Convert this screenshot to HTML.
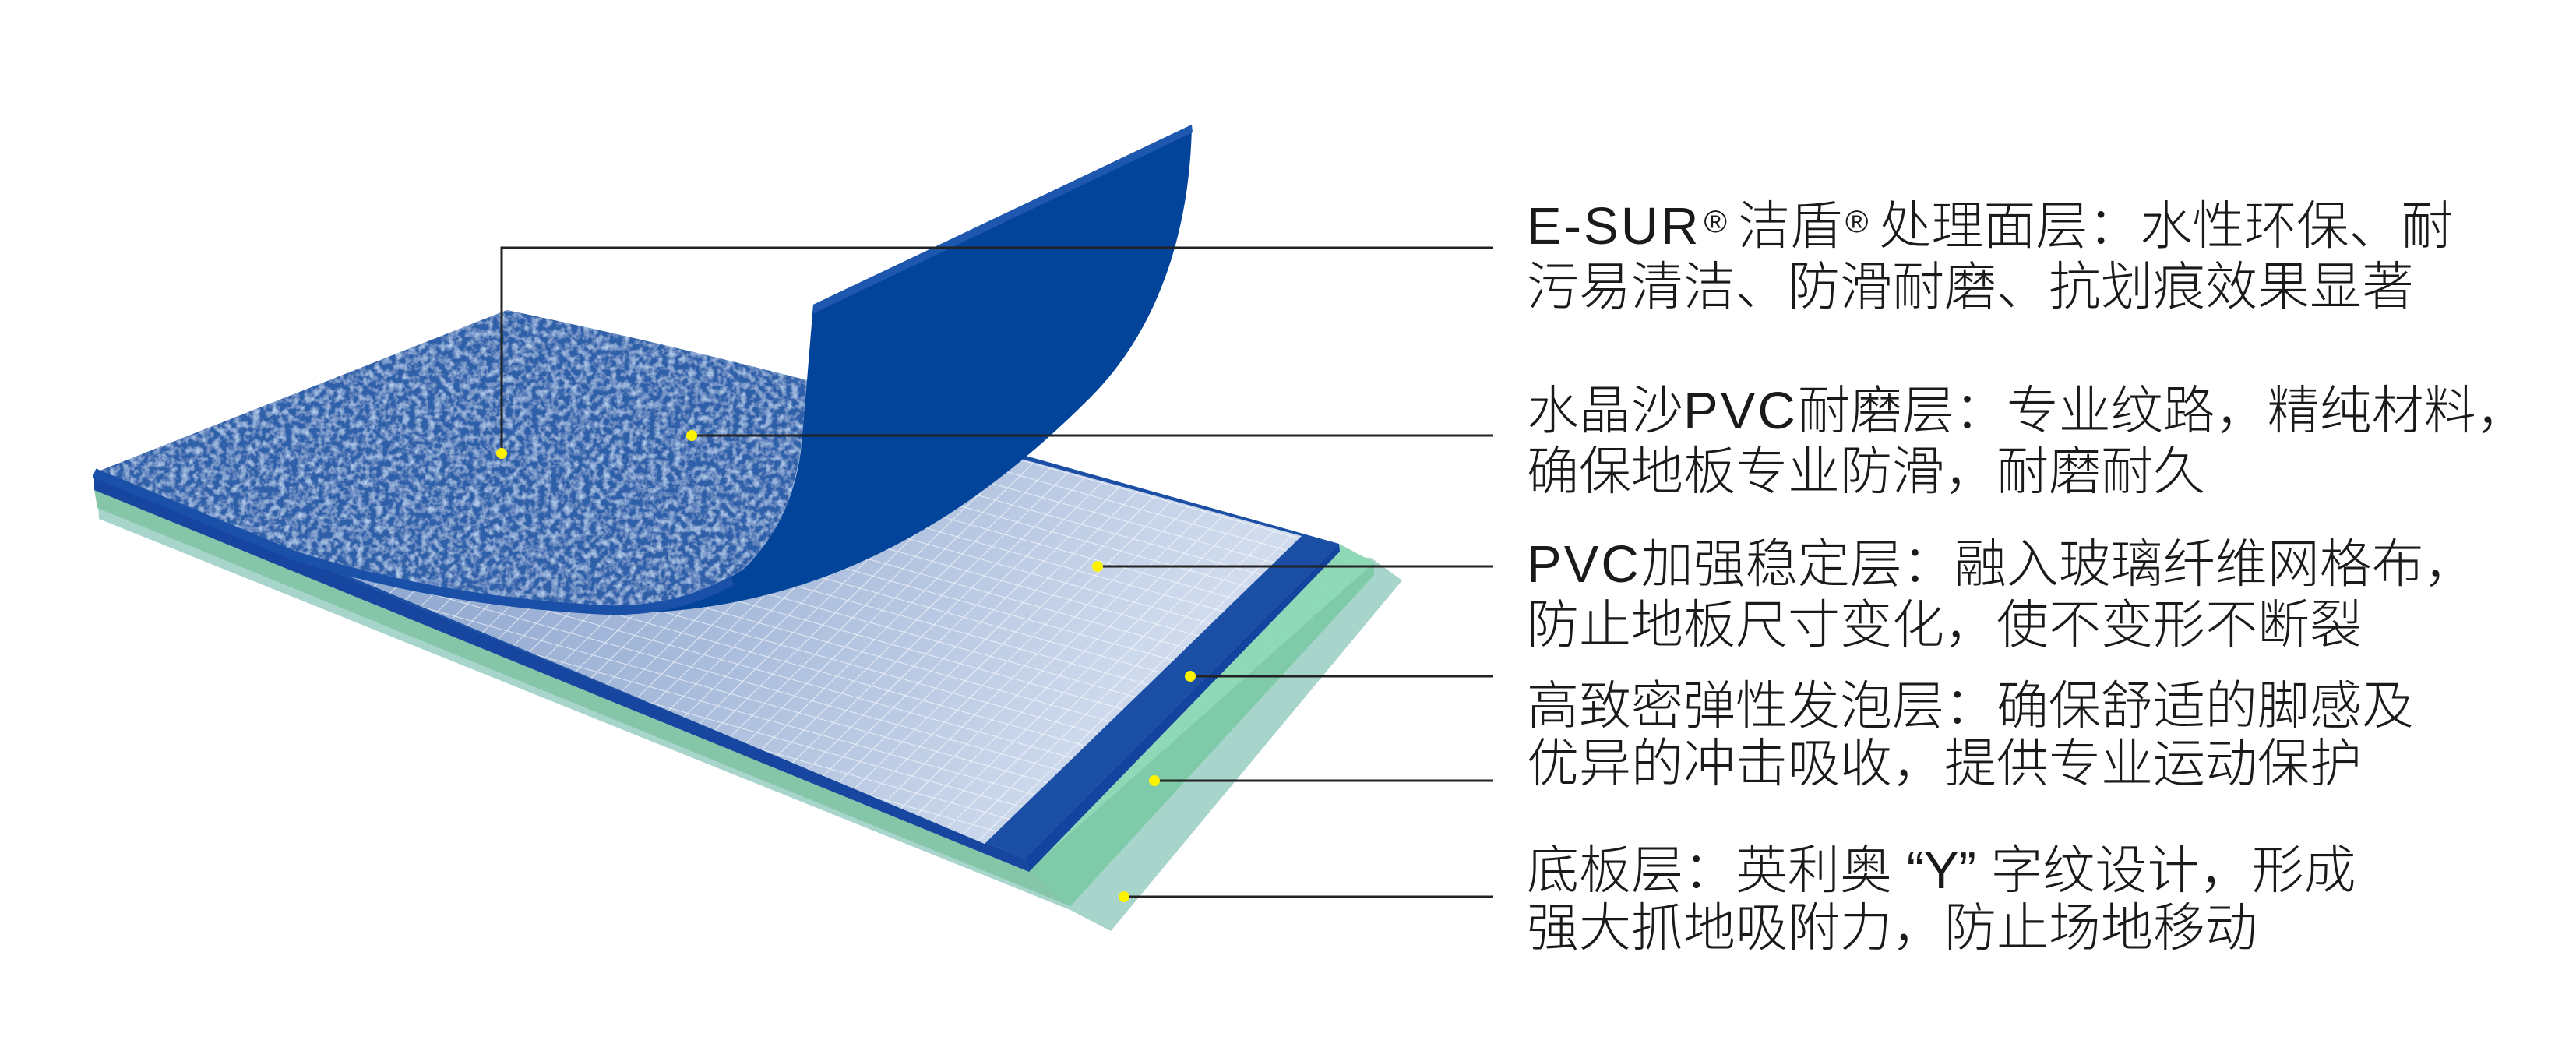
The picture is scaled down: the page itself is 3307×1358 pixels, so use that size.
<!DOCTYPE html>
<html><head><meta charset="utf-8">
<style>
html,body{margin:0;padding:0;background:#fff;}
#wrap{position:relative;width:3307px;height:1358px;overflow:hidden;background:#fff;}
svg{position:absolute;left:0;top:0;}
.t{position:absolute;left:1960px;font-family:"Liberation Sans","Noto Sans CJK SC",sans-serif;font-size:67px;line-height:78px;color:#1a1a1a;font-weight:300;white-space:nowrap;}
.l{letter-spacing:3px;}
.r{font-size:40px;vertical-align:top;position:relative;top:-6px;font-weight:100;margin:0 14px 0 4px;}
</style></head><body>
<div id="wrap">
<svg width="3307" height="1358" viewBox="0 0 3307 1358">
<defs>
  <pattern id="grid" patternUnits="userSpaceOnUse" width="1" height="1" patternTransform="matrix(22.1 6.2 -16.1 15.7 0 0)">
    <rect width="1" height="1" fill="none"/>
    <path d="M0 0H1M0 0V1" stroke="#ffffff" stroke-opacity="0.7" stroke-width="0.1" fill="none"/>
  </pattern>
  <linearGradient id="gg" x1="0" y1="0" x2="1" y2="0.3">
    <stop offset="0" stop-color="#7893c2"/>
    <stop offset="0.6" stop-color="#a5b9da"/>
    <stop offset="1" stop-color="#d0dbed"/>
  </linearGradient>
  <filter id="tex" x="0" y="0" width="100%" height="100%">
    <feTurbulence type="fractalNoise" baseFrequency="0.12" numOctaves="3" seed="4" result="n"/>
    <feColorMatrix in="n" type="matrix" values="0 0 0 0 0.45  0 0 0 0 0.62  0 0 0 0 0.86  0 0 0 -2.2 1.3" result="c"/>
    <feComposite in="c" in2="SourceGraphic" operator="in" result="cc"/>
    <feMerge><feMergeNode in="SourceGraphic"/><feMergeNode in="cc"/></feMerge>
  </filter>
  <filter id="foam" x="0" y="0" width="100%" height="100%">
    <feTurbulence type="fractalNoise" baseFrequency="0.6" numOctaves="1" seed="2" result="n"/>
    <feColorMatrix in="n" type="matrix" values="0 0 0 0 0.3  0 0 0 0 0.6  0 0 0 0 0.45  0 0 0 -3 1.6" result="c"/>
    <feComposite in="c" in2="SourceGraphic" operator="in" result="cc"/>
    <feMerge><feMergeNode in="SourceGraphic"/><feMergeNode in="cc"/></feMerge>
  </filter>
</defs>

<polygon points="125,632 1760,716 1800,745 1426,1195 1374,1168 127,666" fill="#a7d4cb"/>
<polygon points="121,620 1719,698 1764,722 1764,738 1374,1163 125,652" fill="#8ddcb8" filter="url(#foam)"/>
<polygon points="1321,1117 1764,722 1764,738 1374,1163" fill="#7fcaa8"/>
<polygon points="121,628 1321,1117 1374,1163 125,652" fill="#86c6a8"/>
<polygon points="121,607 651,398 1719,698 1315,1102" fill="#1a4fa5"/>
<polygon points="121,607 1315,1102 1321,1119 121,629" fill="#1646a0"/>
<polygon points="1315,1102 1719,698 1720,708 1321,1119" fill="#1443a0"/>
<polygon points="150,614 660,410 1671,688 1264,1083" fill="url(#gg)"/>
<polygon points="150,614 660,410 1671,688 1264,1083" fill="url(#grid)"/>
<path d="M121,607 L651,398 Q850,440 1036,488 L1030,560 Q1015,690 940,745 Q860,790 760,782 Q560,770 380,714 Z" fill="#2f60aa" filter="url(#tex)"/>
<path d="M1044,391 L1530,160 C1528,290 1490,420 1400,510 C1280,630 1120,750 900,780 C840,788 800,788 760,782 Q880,780 955,730 Q1022,665 1030,560 L1036,488 Z" fill="#03449b"/>
<path d="M1044,391 L1530,160 L1531,170 L1045,402 Z" fill="#1d57ae"/>
<path d="M121,607 L380,714 Q560,770 760,782 Q860,790 940,745" fill="none" stroke="#1b50a8" stroke-width="12"/>

<g stroke="#222" stroke-width="3" fill="none">
  <polyline points="644,582 644,318 1917,318"/>
  <line x1="888" y1="559" x2="1917" y2="559"/>
  <line x1="1409" y1="727" x2="1917" y2="727"/>
  <line x1="1528" y1="868" x2="1917" y2="868"/>
  <line x1="1482" y1="1002" x2="1917" y2="1002"/>
  <line x1="1443" y1="1151" x2="1917" y2="1151"/>
</g>
<g fill="#fff200">
  <circle cx="644" cy="582" r="7"/>
  <circle cx="888" cy="559" r="7"/>
  <circle cx="1409" cy="727" r="7"/>
  <circle cx="1528" cy="868" r="7"/>
  <circle cx="1482" cy="1002" r="7"/>
  <circle cx="1443" cy="1151" r="7"/>
</g>
</svg>

<div class="t" style="top:252px"><span class="l">E-SUR</span><span class="r">®</span>洁盾<span class="r">®</span>处理面层：水性环保、耐<br>污易清洁、防滑耐磨、抗划痕效果显著</div>
<div class="t" style="top:489px">水晶沙<span class="l">PVC</span>耐磨层：专业纹路，精纯材料，<br>确保地板专业防滑，耐磨耐久</div>
<div class="t" style="top:686px"><span class="l">PVC</span>加强稳定层：融入玻璃纤维网格布，<br>防止地板尺寸变化，使不变形不断裂</div>
<div class="t" style="top:870px;line-height:74px">高致密弹性发泡层：确保舒适的脚感及<br>优异的冲击吸收，提供专业运动保护</div>
<div class="t" style="top:1081px;line-height:74px">底板层：英利奥 “Y” 字纹设计，形成<br>强大抓地吸附力，防止场地移动</div>
</div>
</body></html>
